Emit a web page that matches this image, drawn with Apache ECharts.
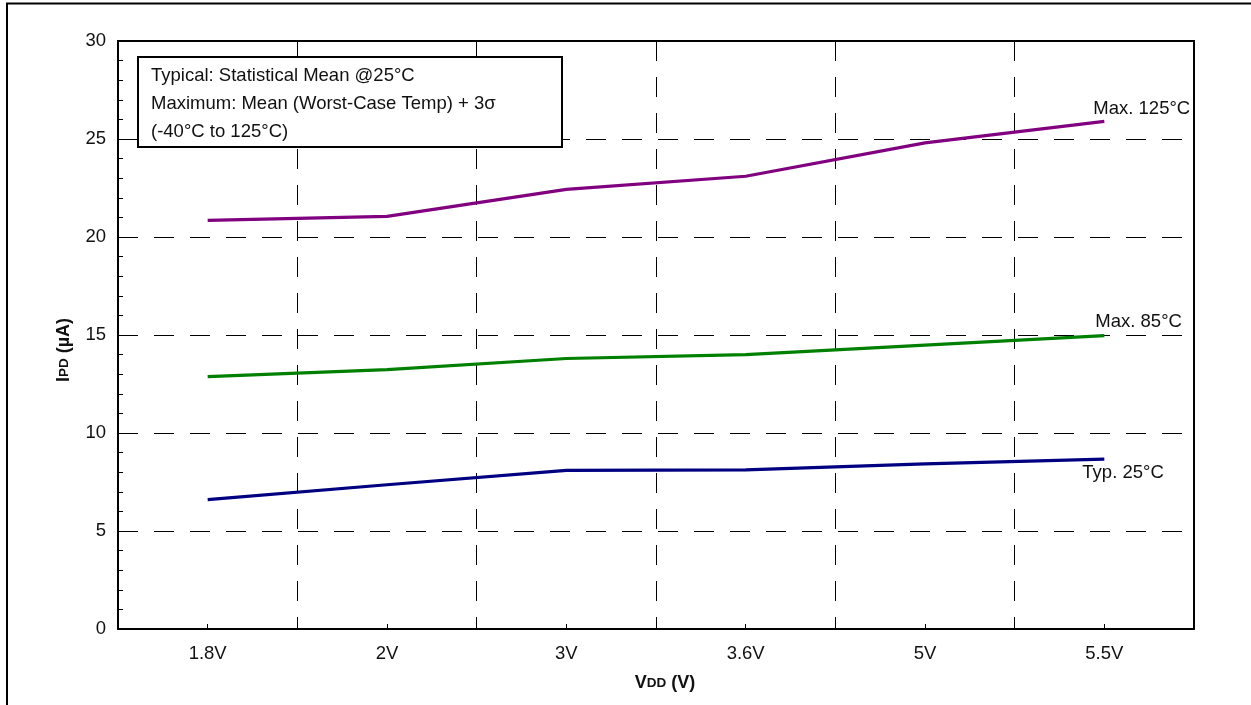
<!DOCTYPE html>
<html>
<head>
<meta charset="utf-8">
<script src="https://cdn.jsdelivr.net/npm/echarts@6/dist/echarts.min.js"></script>
<style>
html,body{margin:0;padding:0;background:#fff;}
#chart{width:1251px;height:705px;}
</style>
</head>
<body>
<div id="chart"></div>
<script>
var categories = ['1.8V', '2V', '3V', '3.6V', '5V', '5.5V'];
var max125 = [20.85, 21.05, 22.43, 23.1, 24.8, 25.9];
var max85 = [12.88, 13.23, 13.8, 14.0, 14.48, 14.97];
var typ25 = [6.6, 7.36, 8.09, 8.12, 8.42, 8.67];
var seriesNames = ['Max. 125°C', 'Max. 85°C', 'Typ. 25°C'];
var noteLines = ['Typical: Statistical Mean @25°C', 'Maximum: Mean (Worst-Case Temp) + 3σ', '(-40°C to 125°C)'];

var FONT = '"Liberation Sans", Arial, sans-serif';
var FS = 18.5;
var chart = echarts.init(document.getElementById('chart'), null, {renderer: 'canvas'});

function mkSeries(name, data, color, off) {
  return {
    name: name, type: 'line', data: data, showSymbol: false, symbol: 'none',
    lineStyle: {color: color, width: 3.2}, itemStyle: {color: color},
    emphasis: {disabled: true}, silent: true, animation: false,
    endLabel: {show: true, formatter: '{a}', distance: 0, offset: off,
      color: '#111', fontSize: FS, fontFamily: FONT}
  };
}

chart.setOption({
  animation: false,
  backgroundColor: '#fff',
  grid: {left: 118, right: 57, top: 41, bottom: 76, show: true, borderColor: '#000', borderWidth: 2, backgroundColor: 'transparent'},
  xAxis: {
    type: 'category', data: categories, boundaryGap: true,
    axisLine: {lineStyle: {color: '#000', width: 2}},
    axisTick: {show: true, inside: true, alignWithLabel: true, length: 5, lineStyle: {color: '#000', width: 1}},
    axisLabel: {color: '#111', fontSize: FS, fontFamily: FONT, margin: 15},
    splitLine: {show: true, lineStyle: {color: '#000', width: 1, type: [20, 16]}},
    name: '{b|V}{s|DD}{b| (V)}', nameLocation: 'middle', nameGap: 45,
    nameTextStyle: {padding: [0, 0, 0, 18], rich: {
      b: {fontSize: 18, fontWeight: 'bold', fontFamily: FONT, color: '#111'},
      s: {fontSize: 13.5, fontWeight: 'bold', fontFamily: FONT, color: '#111'}
    }}
  },
  yAxis: {
    type: 'value', min: 0, max: 30, interval: 5,
    axisLine: {show: true, lineStyle: {color: '#000', width: 2}},
    axisTick: {show: true, inside: true, length: 6, lineStyle: {color: '#000', width: 1}},
    minorTick: {show: true, splitNumber: 5, length: 5, lineStyle: {color: '#000', width: 1}},
    axisLabel: {color: '#111', fontSize: FS, fontFamily: FONT, margin: 12},
    splitLine: {show: true, lineStyle: {color: '#000', width: 1, type: [20, 16]}},
    name: '{b|I}{s|PD}{b| (µA)}', nameLocation: 'middle', nameGap: 45, nameRotate: 90,
    nameTextStyle: {padding: [0, 30, 0, 0], rich: {
      b: {fontSize: 18, fontWeight: 'bold', fontFamily: FONT, color: '#111'},
      s: {fontSize: 13.5, fontWeight: 'bold', fontFamily: FONT, color: '#111'}
    }}
  },
  series: [
    mkSeries(seriesNames[0], max125, '#800080', [-11, -12]),
    mkSeries(seriesNames[1], max85, '#008000', [-9, -14]),
    mkSeries(seriesNames[2], typ25, '#000080', [-22, 14])
  ],
  graphic: [
    {type: 'rect', shape: {x: 7, y: 3.5, width: 1400, height: 900},
      style: {fill: 'none', stroke: '#000', lineWidth: 2}, silent: true, z: 100},
    {type: 'rect', shape: {x: 138, y: 57, width: 424, height: 90}, z: 50,
      style: {fill: '#fff', stroke: '#000', lineWidth: 2}},
    {type: 'text', x: 151, y: 76, z: 51, style: {text: noteLines[0], fill: '#111', font: FS + 'px ' + FONT, textVerticalAlign: 'middle'}},
    {type: 'text', x: 151, y: 104, z: 51, style: {text: noteLines[1], fill: '#111', font: FS + 'px ' + FONT, textVerticalAlign: 'middle'}},
    {type: 'text', x: 151, y: 132, z: 51, style: {text: noteLines[2], fill: '#111', font: FS + 'px ' + FONT, textVerticalAlign: 'middle'}}
  ]
});
</script>
</body>
</html>
